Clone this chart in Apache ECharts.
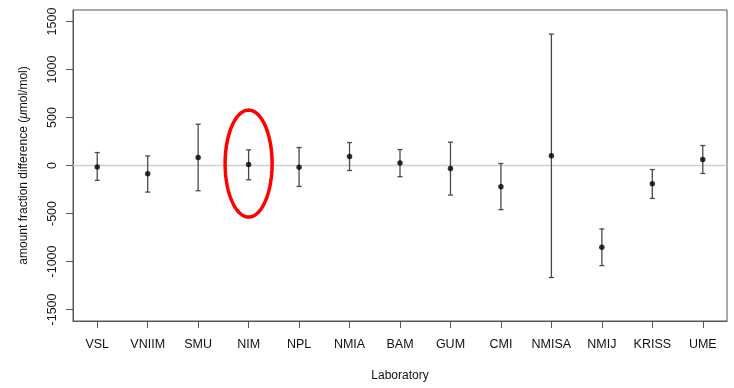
<!DOCTYPE html>
<html>
<head>
<meta charset="utf-8">
<script src="https://cdn.jsdelivr.net/npm/echarts@6/dist/echarts.min.js"></script>
<style>html,body{margin:0;padding:0;background:#fff;}#c{width:734px;height:388px;}</style>
</head>
<body>
<div id="c"></div>
<script>
const labs = ['VSL','VNIIM','SMU','NIM','NPL','NMIA','BAM','GUM','CMI','NMISA','NMIJ','KRISS','UME'];
const vals = [-15,-86,83,10,-17,94,25,-31,-221,101,-852,-190,62];
const lower = [-155,-277,-263,-149,-218,-52,-117,-308,-460,-1167,-1043,-343,-83];
const upper = [135,100,430,163,187,239,166,243,21,1369,-661,-42,208];
const yTicks = [-1500,-1000,-500,0,500,1000,1500];
const highlightLab = 'NIM';
const highlightCenter = 20;

const FONT = '"Liberation Sans", Arial, Helvetica, sans-serif';
const xPos = labs.map((_, i) => i + 1);
const chart = echarts.init(document.getElementById('c'), null, {renderer: 'canvas'});
const hi = labs.indexOf(highlightLab) + 1;

chart.setOption({
  animation: false,
  grid: {left: 73, right: 7, top: 10, bottom: 67, containLabel: false, outerBoundsMode: 'none',
    show: true, borderColor: '#555', borderWidth: 1, backgroundColor: 'transparent'},
  xAxis: {
    type: 'value', min: 0.52, max: 13.48,
    name: 'Laboratory', nameLocation: 'middle', nameGap: 49,
    nameTextStyle: {fontFamily: FONT, fontSize: 12, color: '#111'},
    axisLine: {show: true, onZero: false, lineStyle: {color: '#555'}},
    axisTick: {show: true, length: 7, customValues: xPos, lineStyle: {color: '#555'}},
    axisLabel: {customValues: xPos, margin: 17, fontFamily: FONT, fontSize: 12.5, color: '#111',
      formatter: v => labs[Math.round(v) - 1] || ''},
    splitLine: {show: false}
  },
  yAxis: {
    type: 'value', min: -1620, max: 1620,
    name: '{n|amount fraction difference (}{i|μ}{n|mol/mol)}', nameLocation: 'middle', nameGap: 43, nameRotate: 90,
    nameTextStyle: {rich: {n: {fontFamily: FONT, fontSize: 12, color: '#111'}, i: {fontFamily: FONT, fontSize: 12, fontStyle: 'italic', color: '#111'}}},
    axisLine: {show: true, lineStyle: {color: '#555'}},
    axisTick: {show: true, length: 7, customValues: yTicks, lineStyle: {color: '#555'}},
    axisLabel: {customValues: yTicks, rotate: 90, margin: 14, fontFamily: FONT, fontSize: 12.5, color: '#111',
      formatter: v => String(v)},
    splitLine: {show: false}
  },
  series: [
    {
      type: 'custom', silent: true, z: 1,
      data: [[0]],
      renderItem: (params, api) => {
        const a = api.coord([0.52, 0]);
        const b = api.coord([13.48, 0]);
        return {type: 'line', shape: {x1: a[0], y1: a[1], x2: b[0], y2: b[1]}, style: {stroke: '#d0d0d0', lineWidth: 1.5}};
      }
    },
    {
      type: 'custom', silent: true, z: 2,
      data: xPos.map((x, i) => [x, lower[i], upper[i]]),
      renderItem: (params, api) => {
        const lo = api.coord([api.value(0), api.value(1)]);
        const up = api.coord([api.value(0), api.value(2)]);
        const w = 2.5;
        const st = {stroke: '#4a4a4a', lineWidth: 1.3};
        return {type: 'group', children: [
          {type: 'line', shape: {x1: lo[0], y1: lo[1], x2: up[0], y2: up[1]}, style: st},
          {type: 'line', shape: {x1: lo[0] - w, y1: lo[1], x2: lo[0] + w, y2: lo[1]}, style: st},
          {type: 'line', shape: {x1: up[0] - w, y1: up[1], x2: up[0] + w, y2: up[1]}, style: st}
        ]};
      }
    },
    {
      type: 'scatter', z: 3, symbol: 'circle', symbolSize: 5.5,
      itemStyle: {color: '#000'},
      data: xPos.map((x, i) => [x, vals[i]])
    },
    {
      type: 'custom', silent: true, z: 4,
      data: [[hi, highlightCenter]],
      renderItem: (params, api) => {
        const c = api.coord([api.value(0), api.value(1)]);
        const rx = 23.5, ry = 53.5, pts = [];
        for (let k = 0; k < 120; k++) {
          const t = k / 120 * Math.PI * 2;
          pts.push([c[0] + rx * Math.cos(t), c[1] + ry * Math.sin(t)]);
        }
        return {type: 'polygon', shape: {points: pts}, style: {fill: 'none', stroke: '#f00', lineWidth: 3.5}};
      }
    }
  ]
});
</script>
</body>
</html>
